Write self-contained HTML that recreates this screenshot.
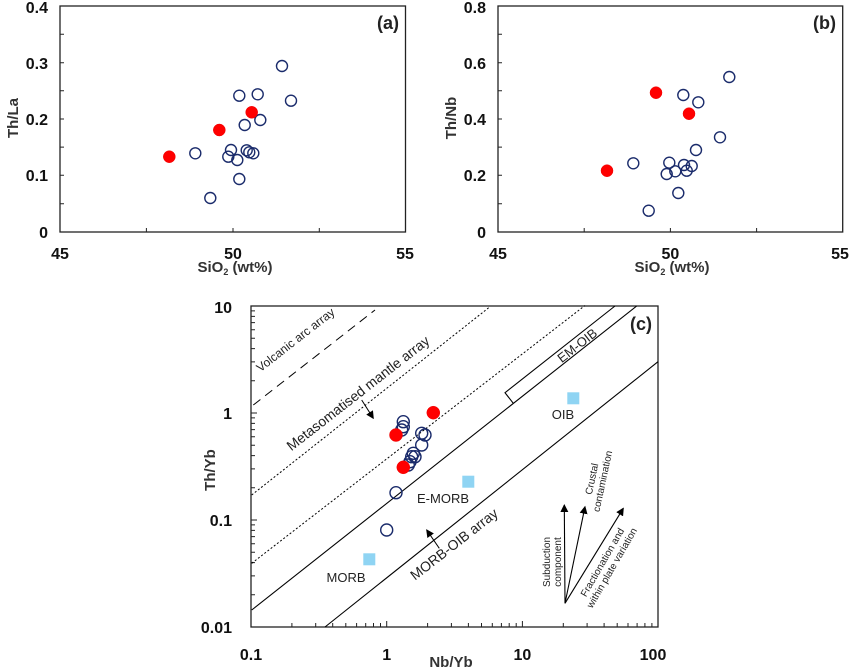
<!DOCTYPE html>
<html><head><meta charset="utf-8"><style>
html,body{margin:0;padding:0;background:#fff}
svg{display:block}
text{font-family:"Liberation Sans",Arial,sans-serif}
.tl{font-size:16px;font-weight:bold;fill:#111}
.al{font-size:15px;font-weight:bold;fill:#333}
.oc{fill:none;stroke:#1a2b6b;stroke-width:1.4}
.rc{fill:#f00;stroke:#e00;stroke-width:0.5}
.lb{font-size:13px;fill:#222}
.sm{font-size:10px;fill:#222}
</style></head><body>
<svg width="850" height="668" viewBox="0 0 850 668" xmlns="http://www.w3.org/2000/svg">
<defs><marker id="ar" markerWidth="8" markerHeight="8" refX="7" refY="4" orient="auto" markerUnits="userSpaceOnUse"><path d="M0,0 L8,4 L0,8 Z" fill="#000"/></marker></defs>

<!-- Panel a -->
<rect x="60" y="6" width="345.5" height="226" fill="none" stroke="#222" stroke-width="1.3"/>
<path d="M146.4,232v-4M233,232v-4M319.3,232v-4M60,203.8h4M60,175.3h4M60,147.1h4M60,119h4M60,90.7h4M60,62.7h4M60,34.3h4" stroke="#222" stroke-width="1"/>
<g class="tl" text-anchor="end"><text x="48" y="13">0.4</text><text x="48" y="69">0.3</text><text x="48" y="125">0.2</text><text x="48" y="181">0.1</text><text x="48" y="238">0</text></g>
<g class="tl" text-anchor="middle"><text x="60" y="259">45</text><text x="233" y="259">50</text><text x="405" y="259">55</text></g>
<text class="al" x="235" y="272" text-anchor="middle">SiO<tspan font-size="9" dy="3">2</tspan><tspan dy="-3"> (wt%)</tspan></text>
<text class="al" transform="translate(18,118) rotate(-90)" text-anchor="middle">Th/La</text>
<text x="399" y="29" text-anchor="end" style="font-size:18px;font-weight:bold;fill:#222">(a)</text>
<g class="oc"><circle cx="282" cy="66" r="5.5"/><circle cx="291" cy="100.7" r="5.5"/><circle cx="239.3" cy="95.7" r="5.5"/><circle cx="257.7" cy="94.3" r="5.5"/><circle cx="260.3" cy="120" r="5.5"/><circle cx="244.7" cy="125" r="5.5"/><circle cx="195.3" cy="153.3" r="5.5"/><circle cx="231" cy="150" r="5.5"/><circle cx="228.3" cy="156.7" r="5.5"/><circle cx="237.3" cy="160" r="5.5"/><circle cx="246.7" cy="150.3" r="5.5"/><circle cx="249.3" cy="152.3" r="5.5"/><circle cx="253.3" cy="153.3" r="5.5"/><circle cx="239.3" cy="179" r="5.5"/><circle cx="210.3" cy="198" r="5.5"/></g>
<g class="rc"><circle cx="169.3" cy="156.7" r="6"/><circle cx="219.3" cy="130" r="6"/><circle cx="251.7" cy="112.3" r="6"/></g>

<!-- Panel b -->
<rect x="498" y="6" width="344.7" height="226" fill="none" stroke="#222" stroke-width="1.3"/>
<path d="M584.2,232v-4M670.4,232v-4M756.6,232v-4M498,203.8h4M498,175.3h4M498,147.1h4M498,119h4M498,90.7h4M498,62.7h4M498,34.3h4" stroke="#222" stroke-width="1"/>
<g class="tl" text-anchor="end"><text x="486" y="13">0.8</text><text x="486" y="69">0.6</text><text x="486" y="125">0.4</text><text x="486" y="181">0.2</text><text x="486" y="238">0</text></g>
<g class="tl" text-anchor="middle"><text x="498" y="259">45</text><text x="670.4" y="259">50</text><text x="840" y="259">55</text></g>
<text class="al" x="672" y="272" text-anchor="middle">SiO<tspan font-size="9" dy="3">2</tspan><tspan dy="-3"> (wt%)</tspan></text>
<text class="al" transform="translate(456,118) rotate(-90)" text-anchor="middle">Th/Nb</text>
<text x="836" y="29" text-anchor="end" style="font-size:18px;font-weight:bold;fill:#222">(b)</text>
<g class="oc"><circle cx="729.3" cy="77" r="5.5"/><circle cx="683.3" cy="95" r="5.5"/><circle cx="698.3" cy="102.3" r="5.5"/><circle cx="720" cy="137.3" r="5.5"/><circle cx="696" cy="150" r="5.5"/><circle cx="633.3" cy="163.3" r="5.5"/><circle cx="669.3" cy="162.7" r="5.5"/><circle cx="666.7" cy="174" r="5.5"/><circle cx="675.3" cy="171.3" r="5.5"/><circle cx="684" cy="165" r="5.5"/><circle cx="686.7" cy="170.7" r="5.5"/><circle cx="691.7" cy="166" r="5.5"/><circle cx="678.3" cy="193" r="5.5"/><circle cx="648.7" cy="210.7" r="5.5"/></g>
<g class="rc"><circle cx="656" cy="92.7" r="6"/><circle cx="689" cy="113.7" r="6"/><circle cx="607" cy="170.7" r="6"/></g>

<!-- Panel c -->
<rect x="251" y="306" width="407" height="321" fill="none" stroke="#222" stroke-width="1.3"/>
<path stroke="#222" stroke-width="1" d="
M291.9,627v-4M315.7,627v-4M332.7,627v-4M345.8,627v-4M356.6,627v-4M365.7,627v-4M373.5,627v-4M380.5,627v-4M386.7,627v-6
M427.6,627v-4M451.4,627v-4M468.4,627v-4M481.5,627v-4M492.3,627v-4M501.4,627v-4M509.2,627v-4M516.2,627v-4M522.4,627v-6
M563.3,627v-4M587.1,627v-4M604.1,627v-4M617.2,627v-4M628,627v-4M637.1,627v-4M644.9,627v-4M651.9,627v-4
M251,594.8h4M251,575.9h4M251,562.6h4M251,552.2h4M251,543.7h4M251,536.6h4M251,530.4h4M251,524.9h4M251,520h6
M251,487.8h4M251,468.9h4M251,455.6h4M251,445.2h4M251,436.7h4M251,429.6h4M251,423.4h4M251,417.9h4M251,413h6
M251,380.8h4M251,361.9h4M251,348.6h4M251,338.2h4M251,329.7h4M251,322.6h4M251,316.4h4M251,310.9h4"/>
<g class="tl" text-anchor="end"><text x="232" y="313">10</text><text x="232" y="419">1</text><text x="232" y="526">0.1</text><text x="232" y="633">0.01</text></g>
<g class="tl" text-anchor="middle"><text x="251" y="660">0.1</text><text x="386.7" y="660">1</text><text x="522.4" y="660">10</text><text x="653" y="660">100</text></g>
<text class="al" x="451" y="667" text-anchor="middle">Nb/Yb</text>
<text class="al" transform="translate(215,470) rotate(-90)" text-anchor="middle">Th/Yb</text>
<text x="652" y="330" text-anchor="end" style="font-size:18px;font-weight:bold;fill:#222">(c)</text>

<line x1="253.3" y1="405" x2="375" y2="310" stroke="#000" stroke-width="1" stroke-dasharray="9,6"/>
<line x1="251.7" y1="495" x2="490" y2="306.7" stroke="#000" stroke-width="1" stroke-dasharray="2,2"/>
<line x1="251.7" y1="563.3" x2="585" y2="305.5" stroke="#000" stroke-width="1" stroke-dasharray="2,2"/>
<line x1="251.7" y1="610" x2="636.7" y2="306" stroke="#000" stroke-width="1.1"/>
<polyline points="513.3,403.3 505,392.7 615,306" fill="none" stroke="#000" stroke-width="1.1"/>
<line x1="325" y1="627" x2="658" y2="361.7" stroke="#000" stroke-width="1.1"/>

<line x1="361.7" y1="400" x2="373.3" y2="418.3" stroke="#000" stroke-width="1" marker-end="url(#ar)"/>
<line x1="439.3" y1="548.3" x2="426.7" y2="530" stroke="#000" stroke-width="1" marker-end="url(#ar)"/>
<line x1="565" y1="603.3" x2="564.3" y2="505" stroke="#000" stroke-width="1.1" marker-end="url(#ar)"/>
<line x1="565" y1="603.3" x2="585" y2="506.7" stroke="#000" stroke-width="1.1" marker-end="url(#ar)"/>
<line x1="565" y1="603.3" x2="623.3" y2="508.3" stroke="#000" stroke-width="1.1" marker-end="url(#ar)"/>

<g fill="#8fd4f3"><rect x="567.3" y="392.3" width="12" height="12"/><rect x="462.3" y="475.7" width="12" height="12"/><rect x="363.3" y="553.3" width="12" height="12"/></g>
<g class="oc"><circle cx="403.3" cy="421.7" r="6"/><circle cx="403.3" cy="426.7" r="6"/><circle cx="401.7" cy="430" r="6"/><circle cx="421.7" cy="433.3" r="6"/><circle cx="425" cy="435" r="6"/><circle cx="421.7" cy="445" r="6"/><circle cx="413.3" cy="453.3" r="6"/><circle cx="411.7" cy="456.7" r="6"/><circle cx="415" cy="456.7" r="6"/><circle cx="410" cy="461.7" r="6"/><circle cx="408.3" cy="465" r="6"/><circle cx="396" cy="492.7" r="6"/><circle cx="386.7" cy="530" r="6"/></g>
<g class="rc"><circle cx="396" cy="435" r="6.5"/><circle cx="433.3" cy="412.7" r="6.5"/><circle cx="403.3" cy="467.3" r="6.5"/></g>

<text class="lb" style="font-size:12px" transform="translate(298,343) rotate(-38)" text-anchor="middle">Volcanic arc array</text>
<text class="lb" style="font-size:14px" transform="translate(361,397) rotate(-38)" text-anchor="middle">Metasomatised mantle array</text>
<text class="lb" style="font-size:14px" transform="translate(457,548) rotate(-38)" text-anchor="middle">MORB-OIB array</text>
<text class="lb" style="font-size:13px" transform="translate(580,349) rotate(-38)" text-anchor="middle">EM-OIB</text>
<text class="lb" x="443" y="503" text-anchor="middle">E-MORB</text>
<text class="lb" x="563" y="419" text-anchor="middle">OIB</text>
<text class="lb" x="346" y="582" text-anchor="middle">MORB</text>
<text class="sm" transform="translate(552,562) rotate(-90)" text-anchor="middle"><tspan x="0" dy="-2">Subduction</tspan><tspan x="0" dy="11">component</tspan></text>
<text class="sm" transform="translate(597,480) rotate(-78)" text-anchor="middle"><tspan x="0" dy="-2">Crustal</tspan><tspan x="0" dy="11">contamination</tspan></text>
<text class="sm" transform="translate(607,565) rotate(-60)" text-anchor="middle"><tspan x="0" dy="-2">Fractionation and</tspan><tspan x="0" dy="11">within plate variation</tspan></text>
</svg>
</body></html>
